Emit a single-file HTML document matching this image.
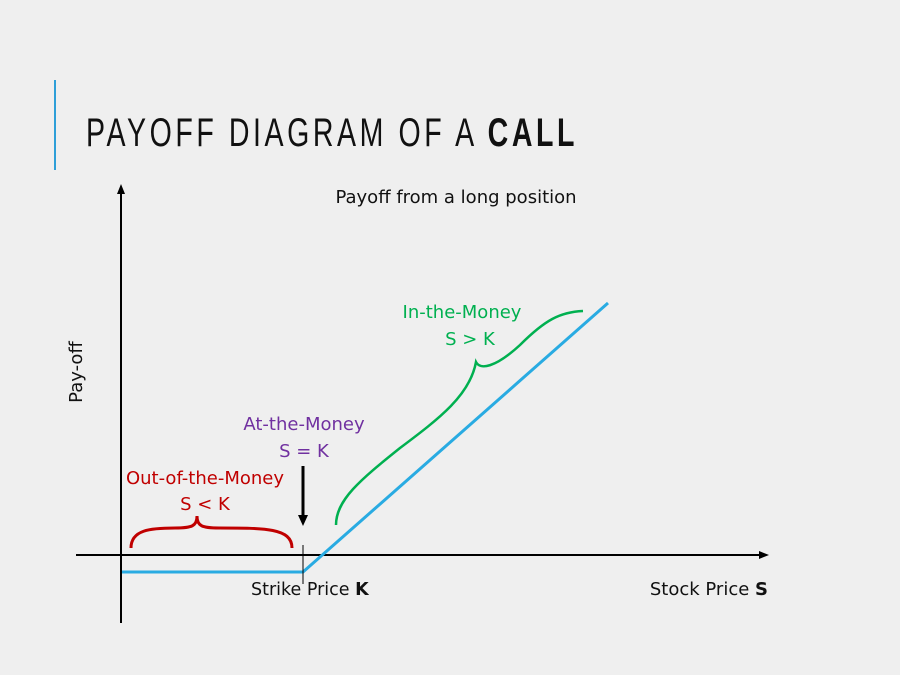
<!DOCTYPE html>
<html><head><meta charset="utf-8"><style>
html,body{margin:0;padding:0;background:#efefef;}
svg{display:block;font-family:"DejaVu Sans","Liberation Sans",sans-serif;}
</style></head><body>
<svg width="900" height="675" viewBox="0 0 900 675" xmlns="http://www.w3.org/2000/svg">
<rect width="900" height="675" fill="#efefef"/>
<rect x="54" y="80" width="2" height="90" fill="#2e9fd8"/>
<text x="86" y="146" font-size="40" fill="#111" textLength="492" lengthAdjust="spacingAndGlyphs" font-family="Liberation Sans, sans-serif" letter-spacing="5">PAYOFF DIAGRAM OF A <tspan font-weight="bold">CALL</tspan></text>
<!-- axes -->
<line x1="121" y1="190" x2="121" y2="623" stroke="#000" stroke-width="2"/>
<polygon points="121,184 117,194 125,194" fill="#000"/>
<line x1="76" y1="555" x2="762" y2="555" stroke="#000" stroke-width="2"/>
<polygon points="769,555 759,551 759,559" fill="#000"/>
<!-- payoff -->
<polyline points="122,572 303,572 608,303" fill="none" stroke="#29abe2" stroke-width="3"/>
<line x1="303" y1="545" x2="303" y2="584" stroke="#000" stroke-width="1"/>
<!-- ATM arrow -->
<line x1="303" y1="466" x2="303" y2="516" stroke="#000" stroke-width="3"/>
<polygon points="303,526 298,515 308,515" fill="#000"/>
<!-- red brace -->
<path d="M131,548 C131,530 150,528 175,528 C192,528 197,526 197,516 C197,526 202,528 219,528 C265,528 292,528 292,548" fill="none" stroke="#c00000" stroke-width="3"/>
<!-- green brace -->
<path d="M336,525 C336,500 360,480 400,448 C440,418 470,395 476,362 C480,370 495,368 520,345 C545,320 560,312 583,311" fill="none" stroke="#00b050" stroke-width="2.5"/>
<!-- labels -->
<text x="456" y="203" font-size="18" text-anchor="middle" fill="#111">Payoff from a long position</text>
<text transform="translate(82,372) rotate(-90)" font-size="18" text-anchor="middle" fill="#111">Pay-off</text>
<text x="462" y="318" font-size="18" text-anchor="middle" fill="#00b050">In-the-Money</text>
<text x="470" y="345" font-size="18" text-anchor="middle" fill="#00b050">S &gt; K</text>
<text x="304" y="430" font-size="18" text-anchor="middle" fill="#7030a0">At-the-Money</text>
<text x="304" y="457" font-size="18" text-anchor="middle" fill="#7030a0">S = K</text>
<text x="205" y="484" font-size="18" text-anchor="middle" fill="#c00000">Out-of-the-Money</text>
<text x="205" y="510" font-size="18" text-anchor="middle" fill="#c00000">S &lt; K</text>
<text x="251" y="595" font-size="17.5" fill="#111">Strike Price <tspan font-weight="bold">K</tspan></text>
<text x="768" y="595" font-size="18" text-anchor="end" fill="#111">Stock Price <tspan font-weight="bold">S</tspan></text>
</svg>
</body></html>
